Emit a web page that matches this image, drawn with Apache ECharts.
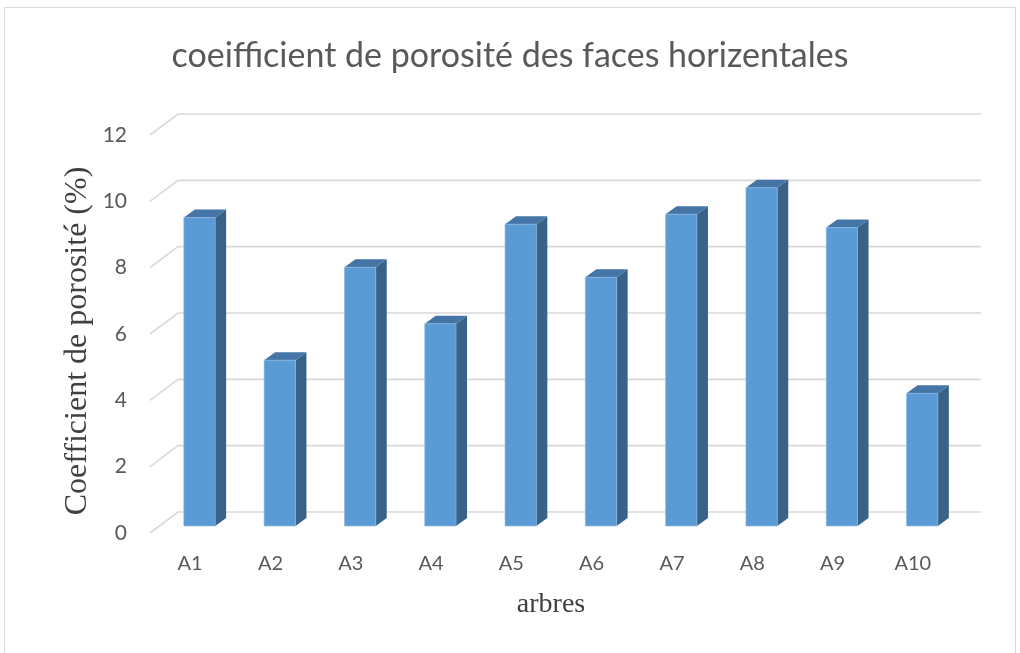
<!DOCTYPE html>
<html>
<head>
<meta charset="utf-8">
<script src="https://cdn.jsdelivr.net/npm/echarts@6/dist/echarts.min.js"></script>
<style>
  html, body { margin: 0; padding: 0; background: #fff; }
  #chart { width: 1020px; height: 653px; }
</style>
</head>
<body>
<div id="chart"></div>
<script>
// données
var arbres = ['A1', 'A2', 'A3', 'A4', 'A5', 'A6', 'A7', 'A8', 'A9', 'A10'];
var porosite = [9.3, 5.0, 7.8, 6.1, 9.1, 7.5, 9.4, 10.2, 9.0, 4.0];
var yTicks = [0, 2, 4, 6, 8, 10, 12];

// décalage de la paroi du fond (pseudo 3D)
var wallDx = 28, wallDy = -21;

var chart = echarts.init(document.getElementById('chart'));

function renderWall(params, api) {
    var cs = params.coordSys;
    var y = api.coord([0, api.value(1)])[1];
    return {
        type: 'polyline',
        shape: {
            points: [
                [cs.x, y],
                [cs.x + wallDx, y + wallDy],
                [cs.x + cs.width + wallDx, y + wallDy]
            ]
        },
        style: { stroke: '#D9D9D9', lineWidth: 1.6, fill: null }
    };
}

function renderBar(params, api) {
    var i = api.value(0);
    var base = api.coord([i, 0]);
    var top = api.coord([i, api.value(1)]);
    var bw = api.size([1, 0])[0] * 0.39;
    var sx = wallDx / 3, sy = wallDy / 3;  // les barres sont à 1/3 de la profondeur
    var x0 = base[0] - bw / 2 + sx;
    var x1 = x0 + bw;
    var yb = base[1] + sy;
    var yt = top[1] + sy;
    var dx = 11, dy = -8;
    return {
        type: 'group',
        children: [
            {
                type: 'polygon',
                shape: { points: [[x1, yb], [x1 + dx, yb + dy], [x1 + dx, yt + dy], [x1, yt]] },
                style: { fill: '#386286' }
            },
            {
                type: 'polygon',
                shape: { points: [[x0, yt], [x1, yt], [x1 + dx, yt + dy], [x0 + dx, yt + dy]] },
                style: { fill: '#4475A6' }
            },
            {
                type: 'rect',
                shape: { x: x0, y: yt, width: bw, height: yb - yt },
                style: { fill: '#5B9BD5', stroke: '#8DB8E2', lineWidth: 0.6 }
            }
        ]
    };
}

var option = {
    backgroundColor: '#fff',
    animation: false,
    title: {
        text: 'coeifficient de porosité des faces horizentales',
        left: 'center',
        top: 34,
        textStyle: { fontFamily: 'Lato', fontWeight: 'normal', fontSize: 34, color: '#595959' }
    },
    grid: { left: 150, right: 67, top: 135, bottom: 120 },
    xAxis: {
        type: 'category',
        data: arbres,
        axisLine: { show: false },
        axisTick: { show: false },
        axisLabel: { margin: 21, fontFamily: 'Lato', fontSize: 20, color: '#595959' }
    },
    yAxis: {
        type: 'value',
        min: 0,
        max: 12,
        interval: 2,
        axisLine: { show: false },
        axisTick: { show: false },
        splitLine: { show: false },
        axisLabel: { margin: 23, fontFamily: 'Lato', fontSize: 21, color: '#595959' }
    },
    graphic: [
        {
            type: 'rect',
            shape: { x: 4.5, y: 7.5, width: 1011, height: 670 },
            style: { fill: null, stroke: '#D9D9D9', lineWidth: 1 },
            silent: true
        },
        {
            type: 'text',
            x: 78, y: 341,
            rotation: Math.PI / 2,
            style: {
                text: 'Coefficient de porosité (%)',
                fontFamily: 'Liberation Serif', fontSize: 32, fill: '#404040',
                align: 'center', verticalAlign: 'middle'
            }
        },
        {
            type: 'text',
            x: 551, y: 605,
            style: {
                text: 'arbres',
                fontFamily: 'Liberation Serif', fontSize: 28, fill: '#404040',
                align: 'center', verticalAlign: 'middle'
            }
        }
    ],
    series: [
        {
            type: 'custom',
            name: 'grille',
            renderItem: renderWall,
            data: yTicks.map(function (v) { return [0, v]; }),
            z: 1,
            silent: true
        },
        {
            type: 'custom',
            name: 'porosité',
            renderItem: renderBar,
            data: porosite.map(function (v, i) { return [i, v]; }),
            z: 2
        }
    ]
};

chart.setOption(option);
</script>
</body>
</html>
